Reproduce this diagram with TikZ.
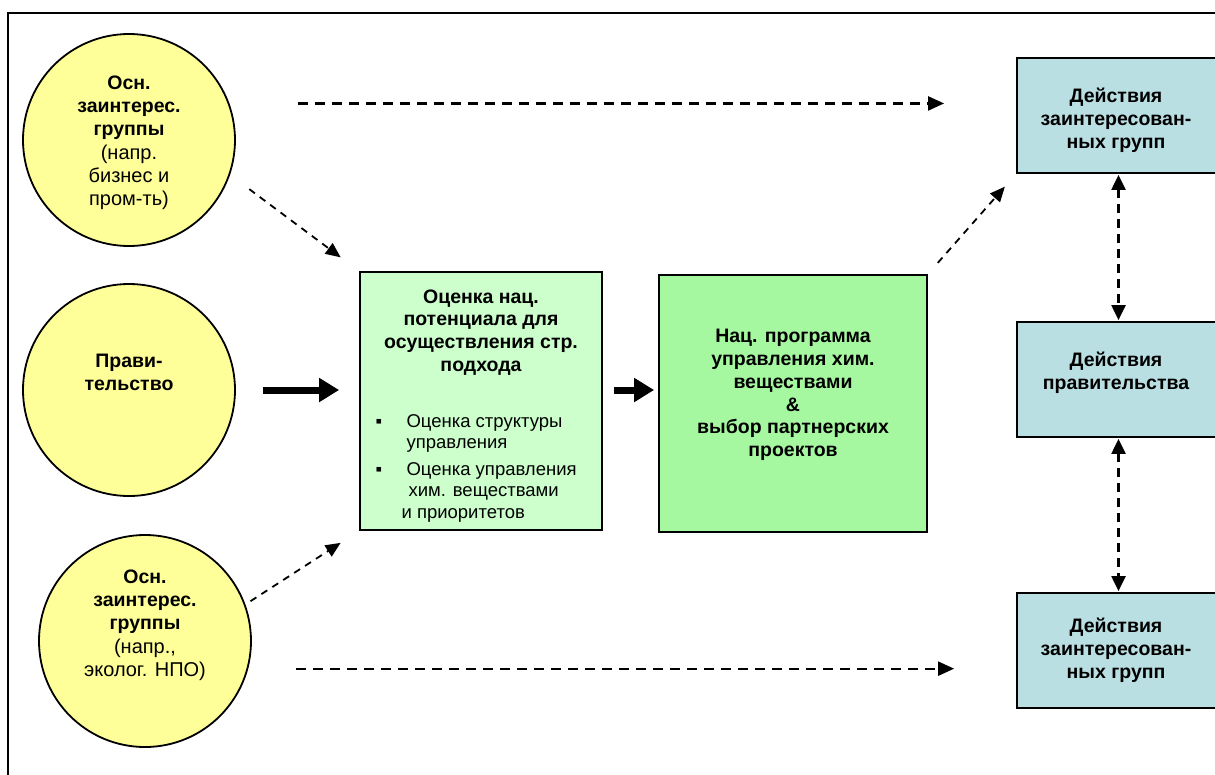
\documentclass[tikz,border=0pt]{standalone}
\usepackage{fontspec}
\setmainfont{Liberation Sans}
\usetikzlibrary{%
    arrows.meta,
    calc,
    positioning
}

\definecolor{stakeyellow}{HTML}{FFFF99}
\definecolor{assessgreen}{HTML}{CCFFCC}
\definecolor{proggreen}{HTML}{A6F8A0}
\definecolor{actblue}{HTML}{BADFE3}

\tikzset{
    stakecircle/.style={circle, draw, line width=1.8pt, fill=stakeyellow,
                        minimum size=212pt, inner sep=0pt},
    boxbase/.style={rectangle, draw, line width=1.8pt, inner sep=0pt},
    boldtext/.style={font=\fontsize{19.5}{22.8}\selectfont\bfseries, align=center},
    plaintext/.style={font=\fontsize{20}{23}\selectfont, align=center},
    listtext/.style={font=\fontsize{18.5}{21.5}\selectfont, align=left},
    dasharrow/.style={line width=2.2pt, dash pattern=on 10pt off 7pt,
                      -{Triangle[length=16pt,width=14pt]}},
    slantarrow/.style={line width=1.8pt, dash pattern=on 7pt off 6pt,
                       -{Triangle[length=15pt,width=13pt]}},
    twinarrow/.style={line width=2.2pt, dash pattern=on 9pt off 6pt,
                      {Triangle[length=15pt,width=14pt]}-{Triangle[length=15pt,width=14pt]}},
    fatarrow/.style={line width=7pt, -{Triangle[length=20pt,width=23pt]}}
}

\begin{document}
\begin{tikzpicture}[x=1pt, y=-1pt]
    \useasboundingbox (0,0) rectangle (1215,774);
    \clip (0,0) rectangle (1215,774);

    % outer frame
    \draw[line width=1.8pt] (8,790) |- (1230,13);

    % stakeholder circles
    \foreach \Name/\X/\Y in {stake1/129/140, gov/129/390, stake3/145/641}
        \node[stakecircle] (\Name) at (\X,\Y) {};

    \node[boldtext] (stake1top) at (129,108)
        {Осн.\\заинтерес.\\группы};
    \node[plaintext, below=-2pt of stake1top] (stake1sub)
        {(напр.\\бизнес и\\пром-ть)};

    \node[boldtext] (govtext) at (129,372) {Прави-\\тельство};

    \node[boldtext] (stake3top) at (145,602)
        {Осн.\\заинтерес.\\группы};
    \node[plaintext, below=-2pt of stake3top] (stake3sub)
        {(напр.,\\эколог. НПО)};

    % assessment and programme
    \node[boxbase, fill=assessgreen, minimum width=242pt, minimum height=258pt]
        (assess) at (481,401) {};
    \node[boldtext, anchor=north] (assesstitle) at (481,286)
        {Оценка нац.\\потенциала для\\осуществления стр.\\подхода};
    \node[listtext, anchor=north west] (assesslist) at (372,411) {%
        \makebox[31pt][l]{▪}Оценка структуры\\
        \hspace*{31pt}управления\\[5pt]
        \makebox[31pt][l]{▪}Оценка управления\\
        \hspace*{33pt}хим. веществами\\
        \hspace*{26pt}и приоритетов};

    \node[boxbase, fill=proggreen, minimum width=268pt, minimum height=257pt]
        (prog) at (793,403.5) {};
    \node[boldtext] (progtext) at (793,395)
        {Нац. программа\\управления хим.\\веществами\\\&\\выбор партнерских\\проектов};

    % actions
    \foreach \Name/\Y in {act1/115.5, act2/379.5, act3/650.5}
        \node[boxbase, fill=actblue, minimum width=203pt, minimum height=115pt]
            (\Name) at (1118.5,\Y) {};

    \node[boldtext] (act1text) at (1116,120)
        {Действия\\заинтересован-\\ных групп};
    \node[boldtext] (act2text) at (1116,373)
        {Действия\\правительства};
    \node[boldtext] (act3text) at (1116,650)
        {Действия\\заинтересован-\\ных групп};

    % connectors
    \draw[dasharrow, shorten <=69pt, shorten >=72pt]
        (stake1.20) -- (act1.west |- stake1.20);
    \draw[dasharrow, shorten <=48pt, shorten >=62pt]
        (stake3.-15) -- (act3.west |- stake3.-15);

    \draw[slantarrow, shorten <=24pt, shorten >=23pt]
        (stake1.-19) -- (assess.north west);
    \draw[slantarrow, shorten <=6pt, shorten >=22pt]
        (stake3.20) -- (assess.south west);
    \draw[slantarrow, shorten <=15pt, shorten >=17pt]
        (prog.north east) -- (act1.south west);

    \draw[fatarrow, shorten <=27pt, shorten >=20pt]
        (gov.east) -- (assess.west |- gov.east);
    \draw[fatarrow, shorten <=11pt, shorten >=4pt]
        (assess.east |- gov.east) -- (prog.west |- gov.east);

    \draw[twinarrow, shorten <=1pt, shorten >=1pt] (act1.south) -- (act2.north);
    \draw[twinarrow, shorten <=1pt, shorten >=1pt] (act2.south) -- (act3.north);
\end{tikzpicture}
\end{document}
